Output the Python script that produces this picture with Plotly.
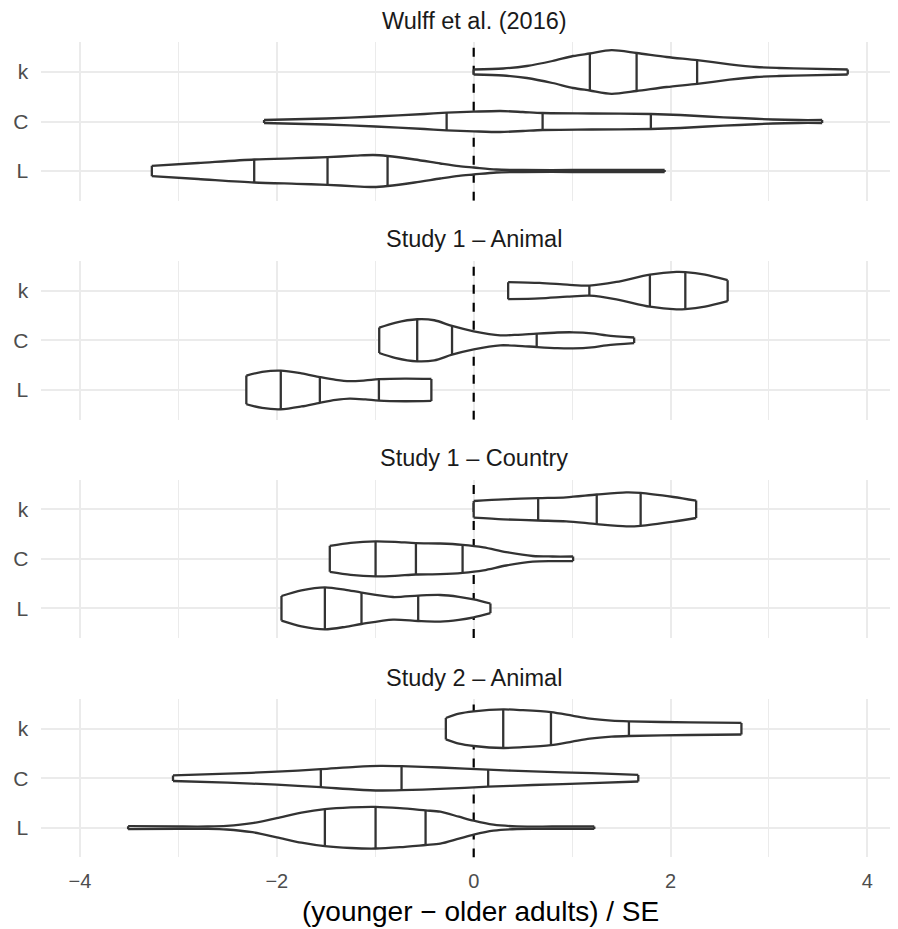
import numpy as np
import plotly.graph_objects as go

# ---------------- data ----------------
FACETS = ["Wulff et al. (2016)", "Study 1 – Animal", "Study 1 – Country", "Study 2 – Animal"]
CATEGORIES = ["L", "C", "k"]          # bottom -> top
X_TICKS = [-4, -2, 0, 2, 4]
X_TICKTEXT = ["−4", "−2", "0", "2", "4"]
REF_X = 0
X_LABEL = "(younger − older adults) / SE"

# density profiles: x positions, half-width (relative density), quartiles
wulff_k_x = [0.0, 0.3, 0.54, 0.8, 1.01, 1.18, 1.40, 1.655, 1.96, 2.27, 2.60, 2.87, 3.1, 3.38, 3.8]
wulff_k_d = [2.5, 3.5, 6, 11, 16, 18.5, 21.8, 19, 15, 11.8, 7.7, 5, 4, 3.3, 2.5]
wulff_k_q = [1.18, 1.655, 2.27]

wulff_C_x = [-2.13, -1.5, -1.0, -0.5, -0.275, 0.0, 0.27, 0.5, 0.70, 1.2, 1.80, 2.1, 2.37, 2.7, 3.04, 3.3, 3.54]
wulff_C_d = [1.5, 3, 5, 7.5, 8.8, 9.8, 10.5, 9.5, 8.5, 8, 7.5, 6.5, 5, 3.5, 2, 1.5, 1.5]
wulff_C_q = [-0.275, 0.70, 1.80]

wulff_L_x = [-3.27, -2.8, -2.23, -1.8, -1.485, -1.2, -1.02, -0.875, -0.6, -0.34, -0.15, 0.0, 0.23, 0.5, 1.0, 1.94]
wulff_L_d = [5.2, 8, 11.5, 12.8, 13.8, 15.3, 16, 15, 11.5, 7.5, 4.8, 3.5, 1.5, 1.0, 1.0, 1.0]
wulff_L_q = [-2.23, -1.485, -0.875]

s1a_k_x = [0.35, 0.67, 0.95, 1.175, 1.45, 1.79, 2.06, 2.15, 2.35, 2.58]
s1a_k_d = [8.5, 7.7, 6, 5, 8.7, 16, 18.7, 18.5, 16, 10.5]
s1a_k_q = [1.175, 1.79, 2.15]

s1a_C_x = [-0.96, -0.8, -0.574, -0.4, -0.22, 0.0, 0.27, 0.45, 0.64, 0.85, 1.01, 1.2, 1.35, 1.63]
s1a_C_d = [12.7, 17.5, 21, 20, 14.3, 9, 5, 5.5, 6.7, 7.8, 8, 7, 5, 2.8]
s1a_C_q = [-0.574, -0.22, 0.64]

s1a_L_x = [-2.31, -2.15, -1.96, -1.75, -1.563, -1.4, -1.26, -1.1, -0.963, -0.7, -0.43]
s1a_L_d = [14.3, 18, 19.3, 16.5, 12.8, 10, 8.7, 9.5, 10.7, 11.3, 11]
s1a_L_q = [-1.96, -1.563, -0.963]

s1c_k_x = [0.0, 0.3, 0.655, 0.94, 1.25, 1.55, 1.696, 2.03, 2.26]
s1c_k_d = [8.3, 10, 11.2, 12, 14.8, 17, 16.5, 12.3, 8.7]
s1c_k_q = [0.655, 1.25, 1.696]

s1c_C_x = [-1.462, -1.25, -0.997, -0.8, -0.587, -0.34, -0.113, 0.1, 0.33, 0.6, 0.8, 1.01]
s1c_C_d = [13, 16, 17.5, 17, 15.7, 15.3, 14, 11.5, 6.7, 2.8, 2.3, 2.3]
s1c_C_q = [-0.997, -0.587, -0.113]

s1c_L_x = [-1.953, -1.75, -1.512, -1.3, -1.14, -0.82, -0.564, -0.34, -0.15, 0.0, 0.17]
s1c_L_d = [12.3, 18, 21, 18.5, 15.7, 11.3, 12.7, 13.3, 11.5, 9, 4.8]
s1c_L_q = [-1.512, -1.14, -0.564]

s2a_k_x = [-0.283, -0.15, 0.0, 0.3, 0.5, 0.785, 1.0, 1.18, 1.4, 1.577, 2.2, 2.72]
s2a_k_d = [10.7, 15, 17.3, 19.3, 18.5, 16.5, 13, 10, 8, 7.3, 6.3, 5.8]
s2a_k_q = [0.30, 0.785, 1.577]

s2a_C_x = [-3.055, -2.5, -2.0, -1.553, -1.2, -0.95, -0.733, -0.34, 0.147, 0.6, 1.2, 1.672]
s2a_C_d = [2.8, 4.5, 6.5, 9, 11.3, 12.3, 12, 10.7, 8.5, 6.8, 5, 3.3]
s2a_C_q = [-1.553, -0.733, 0.147]

s2a_L_x = [-3.511, -3.0, -2.7, -2.51, -2.25, -2.0, -1.75, -1.512, -1.25, -0.997, -0.75, -0.489, -0.34, -0.15, 0.0, 0.2, 0.44, 0.8, 1.225]
s2a_L_d = [1.5, 1.2, 1.2, 1.8, 4.5, 9.6, 15, 18.5, 20.3, 20.8, 19.5, 17.3, 16, 11, 7, 3, 1.3, 1.2, 1.2]
s2a_L_q = [-1.512, -0.997, -0.489]

PROFILES = [
    {"L": (wulff_L_x, wulff_L_d, wulff_L_q), "C": (wulff_C_x, wulff_C_d, wulff_C_q), "k": (wulff_k_x, wulff_k_d, wulff_k_q)},
    {"L": (s1a_L_x, s1a_L_d, s1a_L_q), "C": (s1a_C_x, s1a_C_d, s1a_C_q), "k": (s1a_k_x, s1a_k_d, s1a_k_q)},
    {"L": (s1c_L_x, s1c_L_d, s1c_L_q), "C": (s1c_C_x, s1c_C_d, s1c_C_q), "k": (s1c_k_x, s1c_k_d, s1c_k_q)},
    {"L": (s2a_L_x, s2a_L_d, s2a_L_q), "C": (s2a_C_x, s2a_C_d, s2a_C_q), "k": (s2a_k_x, s2a_k_d, s2a_k_q)},
]

# ---------------- layout constants ----------------
W, H = 898, 929
OFF = 8  # page body margin offset
DENS_SCALE = 1 / 49.5
PANEL_LEFT = 41.3 - OFF
X_RANGE = [-4.393, 4.392]
PANELS_PX = [(42.3, 200.7), (260.9, 419.7), (479.6, 638.0), (699.0, 857.4)]
Y_RANGE = [0.4, 3.6]
OUTLINE = "#333333"
GRID = "#EBEBEB"
FONT = "Liberation Sans, Arial, Helvetica, sans-serif"
LW = 2.3

fig = go.Figure()

for i, facet in enumerate(FACETS):
    xa = "x" if i == 0 else f"x{i+1}"
    ya = "y" if i == 0 else f"y{i+1}"
    fig.add_trace(go.Scatter(x=[REF_X, REF_X], y=Y_RANGE, mode="lines",
                             line=dict(color="black", width=2.2, dash="9px,9px"),
                             xaxis=xa, yaxis=ya, hoverinfo="skip", showlegend=False))
    for ci, cat in enumerate(CATEGORIES):
        c = ci + 1
        xs, ds, qs = PROFILES[i][cat]
        xs = np.asarray(xs, float)
        hw = np.asarray(ds, float) * DENS_SCALE
        fig.add_trace(go.Scatter(x=xs, y=c - hw, mode="lines",
                                 line=dict(color=OUTLINE, width=LW, shape="spline", smoothing=0.8),
                                 xaxis=xa, yaxis=ya, hoverinfo="skip", showlegend=False))
        fig.add_trace(go.Scatter(x=xs, y=c + hw, mode="lines", fill="tonexty", fillcolor="white",
                                 line=dict(color=OUTLINE, width=LW, shape="spline", smoothing=0.8),
                                 xaxis=xa, yaxis=ya, hoverinfo="skip", showlegend=False))
        sx, sy = [], []
        for xv in [xs[0], xs[-1]] + list(qs):
            h = np.interp(xv, xs, hw)
            sx += [xv, xv, None]
            sy += [c - h, c + h, None]
        fig.add_trace(go.Scatter(x=sx, y=sy, mode="lines",
                                 line=dict(color=OUTLINE, width=LW),
                                 xaxis=xa, yaxis=ya, hoverinfo="skip", showlegend=False))

layout = dict(
    width=W, height=H, margin=dict(l=0, r=0, t=0, b=0),
    paper_bgcolor="white", plot_bgcolor="white", showlegend=False,
    font=dict(family=FONT),
)
annotations = []
for i, facet in enumerate(FACETS):
    top, bot = PANELS_PX[i]
    top -= OFF
    bot -= OFF
    xkey = "xaxis" if i == 0 else f"xaxis{i+1}"
    ykey = "yaxis" if i == 0 else f"yaxis{i+1}"
    last = i == len(FACETS) - 1
    layout[xkey] = dict(
        domain=[PANEL_LEFT / W, 1.0], range=X_RANGE, anchor="y" if i == 0 else f"y{i+1}",
        tickvals=X_TICKS, ticktext=X_TICKTEXT, showticklabels=last,
        showgrid=True, gridcolor=GRID, gridwidth=2, zeroline=False, showline=False, ticks="",
        minor=dict(dtick=1, tick0=0, showgrid=True, gridcolor=GRID, gridwidth=1.1),
        tickfont=dict(size=20, color="#4D4D4D", family=FONT), ticklabelstandoff=10,
        fixedrange=True,
    )
    if i > 0:
        layout[xkey]["matches"] = "x"
    layout[ykey] = dict(
        domain=[1 - bot / H, 1 - top / H], range=Y_RANGE, anchor="x" if i == 0 else f"x{i+1}",
        tickvals=[1, 2, 3], ticktext=CATEGORIES,
        showgrid=True, gridcolor=GRID, gridwidth=2, zeroline=False, showline=False, ticks="",
        tickfont=dict(size=21, color="#4D4D4D", family=FONT), ticklabelstandoff=12,
        fixedrange=True,
    )
    annotations.append(dict(text=facet, xref="paper", yref="paper", x=(474 - OFF) / W,
                            y=1 - (top - 21.5) / H,
                            xanchor="center", yanchor="middle", showarrow=False,
                            font=dict(size=23.5, color="#1A1A1A", family=FONT)))
annotations.append(dict(text=X_LABEL, xref="paper", yref="paper", x=(480 - OFF) / W, y=1 - (911 - OFF) / H,
                        xanchor="center", yanchor="middle", showarrow=False,
                        font=dict(size=28, color="black", family=FONT)))
layout["annotations"] = annotations
fig.update_layout(**layout)

fig.write_html("out.html")
